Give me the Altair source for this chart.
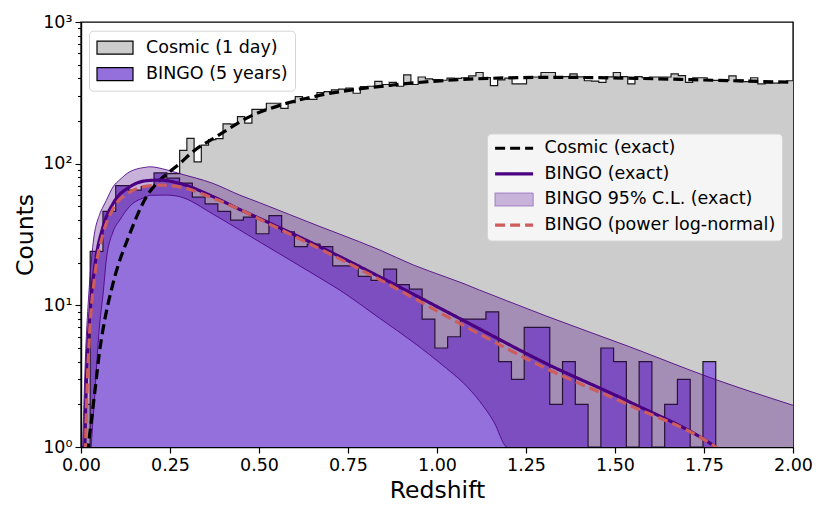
import altair as alt
import numpy as np
import pandas as pd

# ---------------- data ----------------
# Cosmic (1 day) histogram: bin start, bin width, counts
cosmic_edge0 = 0.0132
cosmic_width = 0.0203
cosmic_counts = [2, 4, 7, 12, 19, 27, 36, 47, 58, 68,
                 78, 85, 85, 124, 151, 103, 135, 148, 150, 191,
                 190, 215, 193, 242, 242, 267, 267, 246, 270, 297,
                 284, 284, 318, 322, 332, 336, 341, 314, 350, 352,
                 381, 362, 375, 352, 424, 362, 409, 397, 392, 388,
                 401, 400, 404, 416, 440, 405, 355, 390, 401, 366,
                 366, 409, 409, 440, 440, 412, 412, 430, 410, 385,
                 383, 375, 410, 440, 412, 366, 412, 404, 409, 409,
                 409, 430, 418, 375, 404, 404, 387, 387, 387, 416,
                 390, 380, 404, 366, 370, 370, 378, 385]

# BINGO (5 years) histogram
bingo_edge0 = 0.0258
bingo_width = 0.03586
bingo_counts = [24, 46, 70, 65, 69, 86, 79, 73, 58, 52,
                46, 40, 42, 32, 43, 33, 26, 27, 26, 19,
                19, 16, 15, 18, 14, 13, 8, 5, 6, 8,
                8, 9, 4, 3, 7, 7, 2, 4, 2, 0,
                5, 4, 0, 4, 0, 2, 3, 0, 4]

# Cosmic (exact)
cosmic_x = [0.018, 0.022, 0.030, 0.040, 0.0525, 0.062, 0.09, 0.137, 0.184, 0.2215,
            0.25, 0.277, 0.315, 0.38, 0.474, 0.567, 0.661, 0.876, 1.111, 1.325,
            1.56, 1.775, 2.0]
cosmic_y = [0.9, 1.1, 1.6, 2.6, 4.8, 6.8, 14.3, 32, 58.5, 76.6,
            88, 100, 122, 155, 215, 262, 300, 359, 397, 407,
            400, 388, 375]

# BINGO (exact)
bexact_x = [0.010, 0.015, 0.0244, 0.0385, 0.062, 0.09, 0.137, 0.184, 0.221, 0.277,
            0.371, 0.446, 0.502, 0.671, 0.839, 1.073, 1.307, 1.541, 1.775, 1.80]
bexact_y = [0.9, 2.8, 8.3, 18.7, 35.9, 52.3, 68.6, 75.8, 76.6, 72.5,
            58.5, 47.5, 41.0, 25.9, 15.9, 7.85, 3.88, 2.08, 1.03, 0.93]

# BINGO (power log-normal)
bpln_x = [0.012, 0.017, 0.0244, 0.0385, 0.062, 0.09, 0.137, 0.184, 0.221, 0.277,
          0.371, 0.446, 0.502, 0.671, 0.839, 1.073, 1.307, 1.541, 1.775, 1.80]
bpln_y = [0.9, 2.5, 6.5, 16, 32, 48, 63, 69.4, 70.5, 68.6,
          57, 47.5, 40.5, 25, 15.2, 7.24, 3.58, 1.97, 1.03, 0.93]

# BINGO 95% C.L. (exact)
band_x = [0.004, 0.012, 0.024, 0.034, 0.0525, 0.062, 0.071, 0.09, 0.109, 0.137,
          0.184, 0.193, 0.24, 0.277, 0.371, 0.446, 0.502, 0.671, 0.727, 0.839,
          0.933, 1.026, 1.073, 1.12, 1.16, 1.195, 1.307, 1.541, 1.775, 2.0]
band_hi = [0.9, 4, 14.3, 27.3, 44, 49.6, 55, 68.6, 77, 87.7,
           94.5, 95.1, 90.5, 85.1, 72.5, 60, 53, 36, 31.8, 24.6,
           19.3, 15.8, 14.3, 12.8, 11.7, 10.8, 8.4, 5.1, 3.04, 1.97]
band_lo = [0.8, 0.8, 0.8, 1.6, 7.4, 12, 20.8, 33, 40, 50,
           58.5, 59.8, 60, 58.5, 44, 34, 28, 15.6, 12.8, 8.1,
           5.5, 3.6, 2.85, 2.1, 1.5, 1.0, 0.8, 0.8, 0.8, 0.8]

hist_labels = ["Cosmic (1 day)", "BINGO (5 years)"]
hist_colors = ["#cccccc", "#9370db"]
curve_labels = ["Cosmic (exact)", "BINGO (exact)", "BINGO 95% C.L. (exact)",
                "BINGO (power log-normal)"]
curve_colors = ["black", "#4b0082", "#a88ac6", "#cd5c5c"]
curve_dash = [[10, 5], [1, 0], [1, 0], [10, 5]]
band_key_fill = "#c8b3da"

FONT = "DejaVu Sans"

# legend glyphs: a short line for curves, a patch for the band
LINE_GLYPH = "M-0.7,0H3.3"
PATCH_GLYPH = "M-0.7,-0.67H3.3V0.67H-0.7Z"


def hist_frames(edge0, width, counts, label):
    n = len(counts)
    edges = edge0 + width * np.arange(n + 1)
    vals = np.maximum(np.array(counts, dtype=float), 1.0)
    area = pd.DataFrame({"x": edges, "y": np.append(vals, vals[-1]), "hist": label})
    ox = np.concatenate([[edges[0]], edges, [edges[-1]]])
    oy = np.concatenate([[1.0], vals, [vals[-1]], [1.0]])
    outline = pd.DataFrame({"x": ox, "y": oy, "o": np.arange(len(ox))})
    return area, outline


c_area, c_out = hist_frames(cosmic_edge0, cosmic_width, cosmic_counts, hist_labels[0])
b_area, b_out = hist_frames(bingo_edge0, bingo_width, bingo_counts, hist_labels[1])

band_df = pd.DataFrame({"x": band_x, "hi": band_hi, "lo": band_lo})

curves = []
for lab, xs_, ys_ in [(curve_labels[0], cosmic_x, cosmic_y),
                      (curve_labels[1], bexact_x, bexact_y),
                      (curve_labels[3], bpln_x, bpln_y)]:
    curves.append(pd.DataFrame({"x": xs_, "y": ys_, "curve": lab,
                                "o": np.arange(len(xs_))}))
curves_df = pd.concat(curves, ignore_index=True)

xs = alt.Scale(domain=[0, 2], nice=False, zero=False)
ys = alt.Scale(type="log", domain=[1, 1000], nice=False)

majors = [1, 10, 100, 1000]
minors = [m * d for d in [1, 10, 100] for m in range(2, 10)]

x_axis = alt.Axis(values=[0, 0.25, 0.5, 0.75, 1.0, 1.25, 1.5, 1.75, 2.0],
                  format=".2f", title="Redshift", tickSize=6, tickWidth=1.2,
                  labelFontSize=17.5, titleFontSize=23.5, labelPadding=3,
                  titlePadding=5, domainWidth=1.4, titleFontWeight="normal",
                  labelFlush=False, labelFont=FONT, titleFont=FONT, grid=False,
                  domainColor="black", tickColor="black", labelColor="black",
                  titleColor="black")
y_axis = alt.Axis(values=majors + minors,
                  labelExpr="datum.value == 1 ? '10⁰' : datum.value == 10 ? '10¹' : "
                            "datum.value == 100 ? '10²' : datum.value == 1000 ? '10³' : ''",
                  tickSize={"condition": {"test": "datum.value == 1 || datum.value == 10 || "
                                                  "datum.value == 100 || datum.value == 1000",
                                          "value": 6}, "value": 3.5},
                  tickWidth=1.1, title="Counts", labelFontSize=17.5, titleFontSize=23.5,
                  labelPadding=3, titlePadding=5, domainWidth=1.4, labelFlush=False,
                  titleFontWeight="normal", labelFont=FONT, titleFont=FONT, grid=False,
                  domainColor="black", tickColor="black", labelColor="black",
                  titleColor="black")

hist_legend = alt.Legend(title=None, orient="none", legendX=8, legendY=8.7,
                         symbolType="M-1,-0.72H3V0.72H-1Z", symbolSize=324,
                         symbolStrokeColor="black", symbolStrokeWidth=1.2,
                         symbolOpacity=1, labelFontSize=17.5, labelFont=FONT,
                         labelOffset=30, rowPadding=7.5, padding=7, labelLimit=400,
                         fillColor="rgba(255,255,255,0.8)", strokeColor="#d5d5d5",
                         cornerRadius=4)
fill_enc = alt.Fill("hist:N", scale=alt.Scale(domain=hist_labels, range=hist_colors),
                    legend=hist_legend)

is_band = f"datum.value == '{curve_labels[2]}'"
curve_legend = alt.Legend(
    title=None, orient="none", legendX=406, legendY=111.5,
    symbolSize=361, symbolOpacity=1,
    symbolType=alt.ExprRef(expr=f"{is_band} ? '{PATCH_GLYPH}' : '{LINE_GLYPH}'"),
    symbolStrokeWidth=alt.ExprRef(expr=f"{is_band} ? 1.2 : 3.2"),
    symbolFillColor=alt.ExprRef(expr=f"{is_band} ? '{band_key_fill}' : 'transparent'"),
    labelFontSize=17.5, labelFont=FONT, labelOffset=34,
    rowPadding=6.6, padding=6, labelLimit=400,
    fillColor="rgba(255,255,255,0.8)", strokeColor="#d5d5d5", cornerRadius=4)


def X():
    return alt.X("x:Q", scale=xs, axis=x_axis)


def Y(field="y:Q"):
    return alt.Y(field, scale=ys, axis=y_axis)


cosmic_fill = alt.Chart(c_area).mark_area(interpolate="step-after", clip=True).encode(
    x=X(), y=Y(), y2=alt.datum(1), fill=fill_enc,
)
cosmic_line = alt.Chart(c_out).mark_line(interpolate="step-after", clip=True,
                                         color="#1a1a1a", strokeWidth=1.2).encode(
    x=X(), y=Y(), order="o:Q",
)
bingo_fill = alt.Chart(b_area).mark_area(interpolate="step-after", clip=True).encode(
    x=X(), y=Y(), y2=alt.datum(1), fill=fill_enc,
)
bingo_line = alt.Chart(b_out).mark_line(interpolate="step-after", clip=True,
                                        color="#1a1a1a", strokeWidth=1.2).encode(
    x=X(), y=Y(), order="o:Q",
)
band = alt.Chart(band_df).mark_area(interpolate="monotone", clip=True, color="#4b0082",
                                    opacity=0.3).encode(
    x=X(), y=Y("hi:Q"), y2="lo:Q",
)
band_hi_line = alt.Chart(band_df).mark_line(interpolate="monotone", clip=True,
                                            color="#4b0082", strokeWidth=1,
                                            opacity=0.85).encode(
    x=X(), y=Y("hi:Q"),
)
band_lo_line = alt.Chart(band_df).mark_line(interpolate="monotone", clip=True,
                                            color="#4b0082", strokeWidth=1,
                                            opacity=0.85).encode(
    x=X(), y=Y("lo:Q"),
)
curve_lines = alt.Chart(curves_df).mark_line(interpolate="monotone", clip=True).encode(
    x=X(), y=Y(),
    stroke=alt.Stroke("curve:N", scale=alt.Scale(domain=curve_labels, range=curve_colors),
                      legend=curve_legend),
    strokeDash=alt.StrokeDash("curve:N", scale=alt.Scale(domain=curve_labels,
                                                         range=curve_dash),
                              legend=curve_legend),
    strokeWidth=alt.value(3.2),
    order="o:Q",
)

chart = alt.layer(
    cosmic_fill, cosmic_line, bingo_fill, bingo_line,
    band, band_hi_line, band_lo_line, curve_lines,
).properties(
    width=712, height=425,
    background="white",
    autosize=alt.AutoSizeParams(type="none"),
    padding={"left": 73, "top": 14, "right": 20, "bottom": 60},
).configure_view(
    stroke="black", strokeWidth=1.4,
)

chart.save("out.html", embed_options={"renderer": "svg", "actions": False})
